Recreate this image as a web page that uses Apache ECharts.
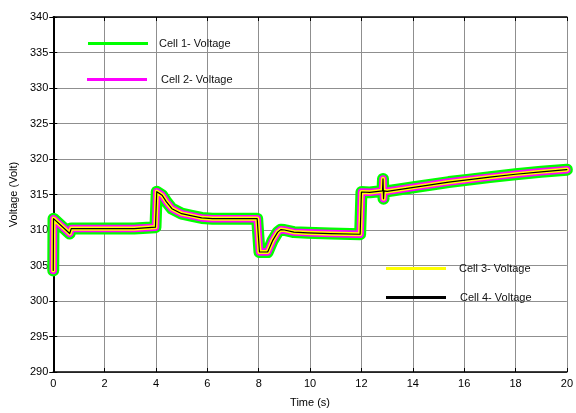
<!DOCTYPE html>
<html>
<head>
<meta charset="utf-8">
<script src="https://cdn.jsdelivr.net/npm/echarts@6/dist/echarts.min.js"></script>
<style>
html,body{margin:0;padding:0;background:#fff;}
#chart{width:576px;height:413px;}
</style>
</head>
<body>
<div id="chart"></div>
<script>
// Time samples (s)
const timeS = [0, 0.01, 0.64, 0.7, 3.15, 3.2, 3.98, 4.03, 4.1, 4.24, 4.4, 4.62, 5.0, 5.4, 5.78, 6.2, 7.94, 8.03, 8.35, 8.54, 8.74, 8.86, 9.0, 9.37, 9.9, 10.8, 11.95, 12.0, 12.33, 12.82, 12.84, 12.86, 12.88, 13.0, 14.1, 15.4, 16.2, 17.0, 18.0, 19.0, 20.0];
// Cell voltages (V)
const cell1 = [304.3, 311.6, 309.5, 310.2, 310.2, 310.4, 310.4, 315.4, 315.6, 314.9, 314.0, 313.0, 312.3, 312.0, 311.7, 311.6, 311.6, 306.9, 306.9, 308.5, 309.7, 310.05, 310.0, 309.7, 309.6, 309.5, 309.4, 315.35, 315.3, 315.5, 317.2, 314.4, 315.5, 315.45, 316.05, 316.75, 317.1, 317.45, 317.85, 318.2, 318.5];
const cell2 = [304.3, 311.6, 309.5, 310.2, 310.2, 310.4, 310.4, 315.4, 315.6, 314.9, 314.0, 313.0, 312.3, 312.0, 311.7, 311.6, 311.6, 306.9, 306.9, 308.5, 309.7, 310.05, 310.0, 309.7, 309.6, 309.5, 309.4, 315.35, 315.3, 315.5, 317.2, 314.4, 315.5, 315.45, 316.05, 316.75, 317.1, 317.45, 317.85, 318.2, 318.5];
const cell3 = [304.3, 311.6, 309.5, 310.2, 310.2, 310.4, 310.4, 315.4, 315.6, 314.9, 314.0, 313.0, 312.3, 312.0, 311.7, 311.6, 311.6, 306.9, 306.9, 308.5, 309.7, 310.05, 310.0, 309.7, 309.6, 309.5, 309.4, 315.35, 315.3, 315.5, 317.2, 314.4, 315.5, 315.45, 316.05, 316.75, 317.1, 317.45, 317.85, 318.2, 318.5];
const cell4 = [304.3, 311.6, 309.5, 310.2, 310.2, 310.4, 310.4, 315.4, 315.6, 314.9, 314.0, 313.0, 312.3, 312.0, 311.7, 311.6, 311.6, 306.9, 306.9, 308.5, 309.7, 310.05, 310.0, 309.7, 309.6, 309.5, 309.4, 315.35, 315.3, 315.5, 317.2, 314.4, 315.5, 315.45, 316.05, 316.75, 317.1, 317.45, 317.85, 318.2, 318.5];
const seriesNames = ['Cell 1- Voltage', 'Cell 2- Voltage', 'Cell 3- Voltage', 'Cell 4- Voltage'];
const xMin = 0, xMax = 20, xStep = 2;
const yMin = 290, yMax = 340, yStep = 5;

const FONT = "'Liberation Sans', Arial, sans-serif";
const pairs = vals => timeS.map((t, i) => [t, vals[i]]);

const chart = echarts.init(document.getElementById('chart'), null, {renderer: 'canvas'});

function legendAt(name, left, top, padLeft) {
  return {
    data: [{name: name, icon: 'rect'}],
    left: left, top: top, orient: 'horizontal',
    itemWidth: 60, itemHeight: 3, padding: 0,
    selectedMode: false,
    textStyle: {fontFamily: FONT, fontSize: 11, color: '#111', padding: [0, 0, 0, padLeft]}
  };
}

const lineSeries = (name, vals, color, width) => ({
  name: name, type: 'line', data: pairs(vals),
  xAxisIndex: 0, yAxisIndex: 0,
  showSymbol: false, symbol: 'none', animation: false, clip: true,
  color: color,
  lineStyle: {color: color, width: width, join: 'round', cap: 'round'}
});

const axisLine = {show: true, lineStyle: {color: '#000', width: 1.5}};
const tickIn = {show: true, inside: true, length: 4, lineStyle: {color: '#000', width: 1}};

chart.setOption({
  backgroundColor: '#fff',
  animation: false,
  grid: {left: 50, right: 7, top: 17, bottom: 41, containLabel: false},
  legend: [
    legendAt(seriesNames[0], 88, 38, 6),
    legendAt(seriesNames[1], 87, 74, 9),
    legendAt(seriesNames[2], 386, 263, 8),
    legendAt(seriesNames[3], 386, 292, 9)
  ],
  xAxis: [
    {
      type: 'value', position: 'bottom', min: xMin, max: xMax, interval: xStep,
      axisLine: axisLine, axisTick: tickIn,
      axisLabel: {fontFamily: FONT, fontSize: 11, color: '#000', margin: 6},
      splitLine: {show: true, lineStyle: {color: '#8f8f8f', width: 1}},
      name: 'Time (s)', nameLocation: 'middle', nameGap: 25,
      nameTextStyle: {fontFamily: FONT, fontSize: 11, color: '#000'}
    },
    {
      type: 'value', position: 'top', min: xMin, max: xMax, interval: xStep,
      axisLine: axisLine, axisTick: tickIn,
      axisLabel: {show: false}, splitLine: {show: false}
    }
  ],
  yAxis: [
    {
      type: 'value', position: 'left', min: yMin, max: yMax, interval: yStep,
      axisLine: {show: true, lineStyle: {color: '#000', width: 2}}, axisTick: tickIn,
      axisLabel: {fontFamily: FONT, fontSize: 11, color: '#000', margin: 5},
      splitLine: {show: true, lineStyle: {color: '#8f8f8f', width: 1}},
      name: 'Voltage (Volt)', nameLocation: 'middle', nameGap: 30, nameRotate: 90,
      nameTextStyle: {fontFamily: FONT, fontSize: 11, color: '#000'}
    },
    {
      type: 'value', position: 'right', min: yMin, max: yMax, interval: yStep,
      axisLine: axisLine, axisTick: tickIn,
      axisLabel: {show: false}, splitLine: {show: false}
    }
  ],
  series: [
    lineSeries(seriesNames[0], cell1, '#00ff00', 12),
    lineSeries(seriesNames[1], cell2, '#ff00ff', 7.5),
    lineSeries(seriesNames[2], cell3, '#ffff00', 4.2),
    lineSeries(seriesNames[3], cell4, '#000000', 1.2)
  ]
});
</script>
</body>
</html>
